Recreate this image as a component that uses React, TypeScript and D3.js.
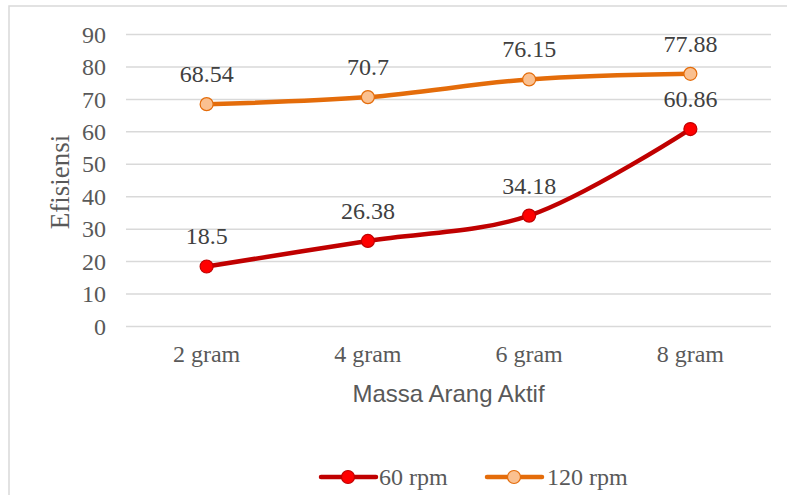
import React from "react";
import * as d3 from "d3";

const categories = ["2 gram", "4 gram", "6 gram", "8 gram"];
const rpm60 = [18.5, 26.38, 34.18, 60.86];
const rpm120 = [68.54, 70.7, 76.15, 77.88];
const yTicks = [0, 10, 20, 30, 40, 50, 60, 70, 80, 90];
const seriesNames = ["60 rpm", "120 rpm"];

const W = 787;
const H = 495;
const plot = { left: 126, right: 771, top: 34.5, bottom: 326.5 };

const serif = "'Liberation Serif', 'Times New Roman', serif";
const sans = "'Liberation Sans', Arial, sans-serif";

const styles = [
  { line: "#C00000", fill: "#FF0000", stroke: "#C00000" },
  { line: "#E46C0A", fill: "#FAC090", stroke: "#E46C0A" },
];

export default function App() {
  const x = d3
    .scaleBand<string>()
    .domain(categories)
    .range([plot.left, plot.right]);
  const y = d3.scaleLinear().domain([0, 90]).range([plot.bottom, plot.top]);
  const cx = (c: string) => (x(c) ?? 0) + x.bandwidth() / 2;

  const line = d3
    .line<number>()
    .x((_, i) => cx(categories[i]))
    .y((v) => y(v))
    .curve(d3.curveCatmullRom.alpha(0.5));

  const series = [rpm60, rpm120];

  return (
    <svg
      width={W}
      height={H}
      style={{ position: "absolute", left: 0, top: 0, background: "#fff" }}
    >
      {/* chart frame */}
      <path d={`M9,${H} L9,6 L${W},6`} fill="none" stroke="#D9D9D9" strokeWidth={1.5} />

      {/* gridlines */}
      {yTicks.map((t) => (
        <line
          key={t}
          x1={plot.left}
          x2={plot.right}
          y1={y(t)}
          y2={y(t)}
          stroke="#D9D9D9"
          strokeWidth={1.5}
        />
      ))}

      {/* y tick labels */}
      {yTicks.map((t) => (
        <text
          key={t}
          x={106}
          y={y(t)}
          dy="0.34em"
          textAnchor="end"
          fontFamily={serif}
          fontSize={24}
          fill="#595959"
        >
          {t}
        </text>
      ))}

      {/* x tick labels */}
      {categories.map((c) => (
        <text
          key={c}
          x={cx(c)}
          y={362}
          textAnchor="middle"
          fontFamily={serif}
          fontSize={24}
          fill="#595959"
        >
          {c}
        </text>
      ))}

      {/* axis titles */}
      <text
        x={(plot.left + plot.right) / 2}
        y={402}
        textAnchor="middle"
        fontFamily={sans}
        fontSize={24}
        fill="#595959"
      >
        Massa Arang Aktif
      </text>
      <text
        transform={`translate(69,182) rotate(-90)`}
        textAnchor="middle"
        fontFamily={serif}
        fontSize={27}
        fill="#595959"
      >
        Efisiensi
      </text>

      {/* series */}
      {series.map((vals, si) => (
        <g key={si}>
          <path
            d={line(vals) ?? ""}
            fill="none"
            stroke={styles[si].line}
            strokeWidth={4.5}
            strokeLinecap="round"
          />
          {vals.map((v, i) => (
            <circle
              key={i}
              cx={cx(categories[i])}
              cy={y(v)}
              r={6.5}
              fill={styles[si].fill}
              stroke={styles[si].stroke}
              strokeWidth={1.2}
            />
          ))}
          {vals.map((v, i) => (
            <text
              key={"l" + i}
              x={cx(categories[i])}
              y={y(v) - 22}
              textAnchor="middle"
              fontFamily={serif}
              fontSize={24}
              fill="#404040"
            >
              {v}
            </text>
          ))}
        </g>
      ))}

      {/* legend */}
      {[
        { x0: 321, x1: 376, mx: 348, tx: 379 },
        { x0: 487, x1: 542, mx: 514, tx: 547 },
      ].map((l, si) => (
        <g key={si}>
          <line
            x1={l.x0}
            x2={l.x1}
            y1={477}
            y2={477}
            stroke={styles[si].line}
            strokeWidth={4.5}
            strokeLinecap="round"
          />
          <circle
            cx={l.mx}
            cy={477}
            r={6.5}
            fill={styles[si].fill}
            stroke={styles[si].stroke}
            strokeWidth={1.2}
          />
          <text
            x={l.tx}
            y={485}
            fontFamily={serif}
            fontSize={24}
            fill="#595959"
          >
            {seriesNames[si]}
          </text>
        </g>
      ))}
    </svg>
  );
}
